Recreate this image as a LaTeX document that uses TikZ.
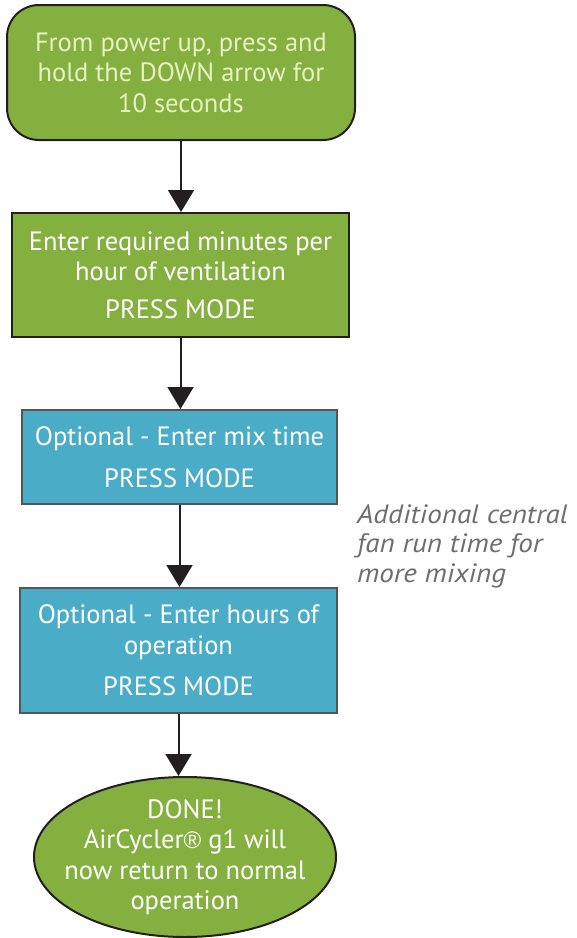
\documentclass[tikz,border=0pt]{standalone}
\usepackage{fontspec}
\setmainfont{PT Sans}
\newfontfamily\notefont[FakeStretch=1.1]{PT Sans Italic}
\newfontfamily\regfont{Liberation Sans}
\usetikzlibrary{arrows.meta,shapes.geometric}
\definecolor{gfill}{RGB}{132,176,64}
\definecolor{bfill}{RGB}{74,172,198}
\definecolor{dline}{RGB}{35,31,32}
\definecolor{gline}{RGB}{85,85,85}
\definecolor{cream}{RGB}{232,240,196}
\definecolor{note}{RGB}{109,110,113}
\tikzset{
  box/.style={draw=dline, line width=2pt, align=center, inner sep=0pt,
    font=\fontsize{26.5}{30.5}\selectfont, text=white},
  greenbox/.style={box, fill=gfill},
  bluebox/.style={box, fill=bfill, draw=gline},
  arr/.style={draw=dline, line width=2pt, -{Triangle[width=26pt,length=22pt]}},
  notetext/.style={align=left, anchor=west, inner sep=0pt, text=note,
    font=\fontsize{26.5}{29.5}\notefont}
}
\begin{document}
\begin{tikzpicture}[x=1pt,y=1pt]
\useasboundingbox (0,0) rectangle (577,-938);
\node[greenbox, rounded corners=32pt, minimum width=348pt, minimum height=135pt, text=cream] (n1) at (181,-72.5)
  {From power up, press and\\hold the DOWN arrow for\\10 seconds};
\node[greenbox, minimum width=337pt, minimum height=124pt] (n2) at (180.5,-275)
  {Enter required minutes per\\hour of ventilation\\[7pt]PRESS MODE};
\node[bluebox, minimum width=315pt, minimum height=94pt] (n3) at (179.5,-457)
  {Optional - Enter mix time\\[11pt]PRESS MODE};
\node[bluebox, minimum width=317pt, minimum height=125pt] (n4) at (178.5,-650.5)
  {Optional - Enter hours of\\operation\\[11pt]PRESS MODE};
\node[box, ellipse, fill=gfill, inner xsep=-40pt, inner ysep=-30pt, minimum width=302pt, minimum height=160pt] (n5) at (185,-857)
  {\raisebox{-2.5pt}{\parbox{260pt}{\centering DONE!\\AirCycler{\regfont\fontsize{24}{30}\selectfont ®} g1 will\\now return to normal\\operation}}};
\node[notetext] (note) at (357,-546) {Additional central\\fan run time for\\more mixing};
\draw[arr] (n1.south) -- (n1.south |- n2.north);
\draw[arr] (n2.south) -- (n2.south |- n3.north);
\draw[arr] (n3.south) -- (n3.south |- n4.north);
\draw[arr] (n4.south) -- (n4.south |- n5.north);
\end{tikzpicture}
\end{document}
